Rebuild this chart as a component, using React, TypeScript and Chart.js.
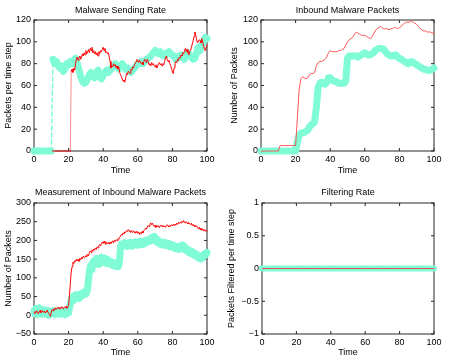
import React, { useEffect, useRef } from "react";
import { Chart, registerables } from "chart.js";

Chart.register(...registerables);

// ---------- data ----------
const FINE_STEP = 0.5; // time step of the noisy series
const COARSE_STEP = 1; // time step of the smoother series

// Malware Sending Rate (red, fine step, t = 0..100)
const rateRed: (number | null)[] = [
  null, null, null, null, null, null, null, null, null, null,
  null, null, null, null, null, null, null, null, null, null,
  null, 0, 0, 0, 0, 0, 0, 0, 0, 0,
  0, 0, 0, 0, 0, 0, 0, 0, 0, 0,
  0, 0, 0, 73, 75, 72, 76, 74, 80, 84,
  86, 83, 85, 87, 84, 86, 89, 87, 90, 88,
  92, 89, 91, 93, 90, 94, 92, 95, 90, 92,
  89, 91, 88, 90, 87, 91, 89, 92, 91, 93,
  95, 92, 94, 90, 91, 89, 90, 86, 82, 76,
  78, 77, 80, 78, 79, 76, 78, 75, 77, 72,
  70, 68, 66, 64, 65, 63, 67, 71, 70, 73,
  72, 71, 75, 74, 77, 76, 79, 80, 82, 84,
  83, 81, 83, 82, 80, 81, 79, 82, 84, 83,
  81, 84, 82, 79, 80, 78, 81, 79, 80, 78,
  77, 79, 76, 78, 80, 81, 79, 80, 78, 80,
  79, 82, 85, 87, 84, 82, 83, 80, 78, 76,
  72, 71, 76, 80, 82, 81, 84, 83, 86, 85,
  88, 87, 90, 89, 92, 94, 91, 93, 90, 88,
  91, 92, 95, 98, 101, 105, 109, 106, 102, 99,
  100, 102, 101, 99, 103, 100, 96, 94, 92, 95,
  97,
];

// Malware Sending Rate (cyan, coarse step)
const rateCyan: number[] = [
  0, 0, 0, 0, 0, 0, 0, 0, 0, 0,
  0, 84, 80, 82, 78, 76, 78, 73, 76, 80,
  79, 82, 80, 83, 85, 80, 74, 68, 64, 62,
  63, 66, 70, 72, 70, 67, 71, 74, 69, 66,
  69, 72, 74, 72, 74, 76, 78, 80, 78, 75,
  78, 80, 78, 75, 76, 74, 72, 74, 76, 78,
  80, 80, 82, 80, 82, 84, 85, 86, 88, 90,
  92, 90, 89, 91, 88, 87, 88, 90, 91, 89,
  88, 87, 84, 85, 87, 88, 86, 84, 88, 90,
  88, 86, 84, 85, 90, 95, 92, 97, 100, 104,
  103,
];

// Inbound Malware Packets (red, coarse step)
const inboundRed: number[] = [
  0, 0, 0, 0, 0, 0, 0, 0, 0, 0,
  0, 5, 5, 5, 5, 5, 5, 5, 5, 5,
  5, 30, 55, 66, 68, 67, 66, 67, 70, 71,
  71, 72, 78, 81, 82, 82, 83, 84, 86, 90,
  92, 91, 91, 91, 91, 92, 92, 93, 94, 97,
  100, 102, 103, 104, 107, 109, 108, 107, 106, 106,
  106, 105, 104, 103, 104, 107, 110, 112, 113, 114,
  113, 112, 112, 112, 111, 112, 112, 113, 113, 112,
  113, 114, 116, 117, 118, 118, 118, 119, 118, 117,
  116, 114, 112, 111, 110, 110, 109, 109, 109, 108,
  108,
];

// Inbound Malware Packets (cyan, coarse step)
const inboundCyan: number[] = [
  0, 0, 0, 0, 0, 0, 0, 0, 0, 0,
  0, 0, 0, 0, 0, 0, 0, 0, 0, 0,
  0, 8, 14, 16, 17, 17, 18, 19, 22, 24,
  25, 27, 40, 58, 62, 63, 62, 61, 63, 67,
  67, 65, 64, 64, 63, 62, 62, 62, 62, 64,
  85, 87, 87, 87, 87, 87, 86, 87, 88, 89,
  90, 89, 88, 88, 89, 90, 92, 93, 94, 94,
  94, 93, 91, 89, 88, 87, 87, 88, 88, 86,
  85, 84, 83, 82, 81, 80, 81, 82, 81, 80,
  79, 78, 77, 76, 75, 75, 74, 74, 74, 75,
  76,
];

// Measurement of Inbound Malware Packets (red, fine step)
const measRed: number[] = [
  5, 10, 6, 12, 8, 4, 9, 13, 7, 10,
  12, 8, 11, 6, 10, 14, 9, 5, 2, -3,
  8, 15, 12, 18, 14, 20, 16, 19, 22, 17,
  21, 18, 23, 19, 17, 22, 20, 24, 19, 23,
  25, 55, 85, 115, 130, 142, 138, 146, 143, 150,
  145, 149, 144, 152, 148, 155, 151, 158, 154, 157,
  160, 156, 163, 159, 167, 172, 168, 175, 171, 177,
  174, 180, 176, 183, 180, 186, 189, 185, 192, 196,
  192, 198, 193, 189, 195, 191, 194, 190, 196, 192,
  195, 199, 194, 200, 197, 202, 199, 205, 203, 208,
  212, 216, 214, 220, 218, 223, 221, 226, 224, 229,
  225, 222, 227, 224, 221, 226, 223, 219, 224, 221,
  219, 223, 216, 221, 218, 224, 220, 226, 229, 233,
  230, 236, 240, 237, 243, 247, 242, 246, 240, 237,
  241, 235, 239, 236, 240, 234, 238, 241, 237, 240,
  236, 239, 235, 238, 242, 239, 236, 240, 238, 242,
  239, 243, 240, 244, 241, 246, 243, 248, 245, 249,
  247, 251, 248, 253, 249, 246, 250, 247, 244, 248,
  245, 242, 246, 240, 243, 238, 241, 236, 239, 234,
  231, 235, 229, 233, 227, 231, 226, 229, 224, 228,
  225,
];

// Measurement of Inbound Malware Packets (cyan, fine step)
const measCyan: number[] = [
  12, 4, 18, 8, 2, 14, 20, 6, 10, 3,
  9, 15, 4, 11, 2, 8, 13, 0, 6, 10,
  3, 9, 12, 5, 8, 2, 11, 6, 4, 10,
  7, 3, 9, 5, 11, 6, 2, 8, 4, 10,
  6, 22, 30, 44, 38, 50, 42, 48, 55, 46,
  52, 45, 56, 49, 58, 51, 60, 54, 62, 57,
  66, 60, 72, 95, 115, 130, 122, 138, 130, 145,
  136, 148, 140, 152, 144, 136, 150, 142, 155, 146,
  150, 141, 153, 145, 138, 149, 140, 146, 137, 144,
  135, 142, 133, 140, 131, 138, 130, 136, 132, 150,
  182, 190, 183, 192, 185, 194, 186, 191, 184, 193,
  186, 195, 188, 192, 185, 194, 189, 196, 190, 193,
  187, 196, 190, 198, 192, 195, 189, 198, 193, 200,
  194, 201, 196, 203, 198, 206, 200, 209, 203, 211,
  205, 200, 196, 202, 193, 198, 190, 196, 188, 194,
  189, 195, 187, 193, 186, 192, 185, 190, 183, 189,
  182, 188, 180, 186, 178, 184, 177, 183, 176, 182,
  186, 180, 188, 179, 184, 174, 180, 171, 176, 168,
  174, 166, 172, 163, 169, 160, 166, 158, 164, 155,
  160, 152, 158, 150, 156, 154, 162, 158, 166, 163,
  168,
];

// Filtering Rate
const filterTime: number[] = [0, 10, 20, 30, 40, 50, 60, 70, 80, 90, 100];
const filterRed: number[] = [0, 0, 0, 0, 0, 0, 0, 0, 0, 0, 0];
const filterCyan: number[] = [0, 0, 0, 0, 0, 0, 0, 0, 0, 0, 0];

// ---------- styling ----------
const RED = "#ff0000";
const CYAN = "rgb(127,252,214)";
const FONT = "'Liberation Sans', Arial, Helvetica, sans-serif";
const AXIS = "#262626";

const onStep = (vals: (number | null)[], step: number) =>
  vals.map((v, i) => ({ x: i * step, y: v }));
const onTimes = (vals: number[], times: number[]) =>
  vals.map((v, i) => ({ x: times[i], y: v }));

const fmt = (v: number | string) => {
  const n = Number(v);
  return (n < 0 ? "\u2212" : "") + String(Math.abs(n));
};

const matlabAxes = {
  id: "matlabAxes",
  beforeDatasetsDraw(chart: any) {
    const { ctx, chartArea: a, scales } = chart;
    const x = scales.x;
    const y = scales.y;
    const L = 3;
    ctx.save();
    ctx.strokeStyle = AXIS;
    ctx.lineWidth = 1;
    ctx.strokeRect(a.left, a.top, a.right - a.left, a.bottom - a.top);
    ctx.beginPath();
    x.ticks.forEach((t: any) => {
      const px = x.getPixelForValue(t.value);
      ctx.moveTo(px, a.bottom);
      ctx.lineTo(px, a.bottom - L);
      ctx.moveTo(px, a.top);
      ctx.lineTo(px, a.top + L);
    });
    y.ticks.forEach((t: any) => {
      const py = y.getPixelForValue(t.value);
      ctx.moveTo(a.left, py);
      ctx.lineTo(a.left + L, py);
      ctx.moveTo(a.right, py);
      ctx.lineTo(a.right - L, py);
    });
    ctx.stroke();
    ctx.restore();
  },
};

type Series = { points: { x: number; y: number | null }[]; color: string; width: number; jumpDash?: boolean; jumpFade?: boolean };
type PanelCfg = {
  left: number; top: number;
  area: { l: number; r: number; t: number; b: number };
  title: string; titlePadTop: number;
  yTitle: string; yTitlePad: number; xTitlePad: number;
  yMin: number; yMax: number; yStep: number;
  series: Series[]; // first entry is drawn on top
};

const W = 225;
const H = 180;

const panels: PanelCfg[] = [
  {
    left: 0, top: 0, area: { l: 34, r: 207, t: 20, b: 151 },
    title: "Malware Sending Rate", titlePadTop: 5,
    yTitle: "Packets per time step", yTitlePad: 3, xTitlePad: 4,
    yMin: 0, yMax: 120, yStep: 20,
    series: [
      { points: onStep(rateRed, FINE_STEP), color: RED, width: 1, jumpFade: true },
      { points: onStep(rateCyan, COARSE_STEP), color: CYAN, width: 7, jumpDash: true },
    ],
  },
  {
    left: 225, top: 0, area: { l: 36, r: 209, t: 20, b: 151 },
    title: "Inbound Malware Packets", titlePadTop: 5,
    yTitle: "Number of Packets", yTitlePad: 4.6, xTitlePad: 4,
    yMin: 0, yMax: 120, yStep: 20,
    series: [
      { points: onStep(inboundRed, COARSE_STEP), color: "rgb(255,70,70)", width: 0.9 },
      { points: onStep(inboundCyan, COARSE_STEP), color: CYAN, width: 7 },
    ],
  },
  {
    left: 0, top: 180, area: { l: 34, r: 207, t: 23, b: 154 },
    title: "Measurement of Inbound Malware Packets", titlePadTop: 7.6,
    yTitle: "Number of Packets", yTitlePad: 3, xTitlePad: 2,
    yMin: -50, yMax: 300, yStep: 50,
    series: [
      { points: onStep(measRed, FINE_STEP), color: RED, width: 1 },
      { points: onStep(measCyan, FINE_STEP), color: CYAN, width: 7 },
    ],
  },
  {
    left: 225, top: 180, area: { l: 37, r: 209, t: 23, b: 154 },
    title: "Filtering Rate", titlePadTop: 7.6,
    yTitle: "Packets Filtered per time step", yTitlePad: 1.3, xTitlePad: 2,
    yMin: -1, yMax: 1, yStep: 0.5,
    series: [
      { points: onTimes(filterRed, filterTime), color: "rgb(230,80,80)", width: 1 },
      { points: onTimes(filterCyan, filterTime), color: CYAN, width: 6 },
    ],
  },
];

function makeChart(canvas: HTMLCanvasElement, p: PanelCfg) {
  const lh = 9 * 1.2;
  return new Chart(canvas, {
    type: "line",
    data: {
      datasets: p.series.map((s) => ({
        data: s.points as any,
        borderColor: s.color,
        borderWidth: s.width,
        pointRadius: 0,
        fill: false,
        tension: 0,
        spanGaps: false,
        clip: false as any,
        borderCapStyle: "round" as const,
        borderJoinStyle: "round" as const,
        segment: {
          borderWidth: (ctx: any) =>
            s.jumpDash && Math.abs(ctx.p1.parsed.y - ctx.p0.parsed.y) > 40 ? 1.5 : undefined,
          borderDash: (ctx: any) =>
            s.jumpDash && Math.abs(ctx.p1.parsed.y - ctx.p0.parsed.y) > 40 ? [4, 3] : undefined,
          borderColor: (ctx: any) =>
            s.jumpFade && Math.abs(ctx.p1.parsed.y - ctx.p0.parsed.y) > 40 ? "rgba(255,0,0,0.45)" : undefined,
        },
      })),
    },
    options: {
      animation: false,
      responsive: false,
      events: [],
      layout: { padding: { left: 0, right: W - p.area.r, top: 0, bottom: 0 } },
      plugins: {
        legend: { display: false },
        tooltip: { enabled: false },
        title: {
          display: true,
          text: p.title,
          fullSize: false,
          color: "#000",
          font: { family: FONT, size: 9, weight: "normal" as any, lineHeight: 1.2 },
          padding: { top: p.titlePadTop, bottom: p.area.t - p.titlePadTop - lh },
        },
      },
      scales: {
        x: {
          type: "linear",
          min: 0,
          max: 100,
          grid: { display: false, drawTicks: false },
          border: { display: false },
          ticks: {
            stepSize: 20,
            padding: 3,
            color: "#000",
            maxRotation: 0,
            font: { family: FONT, size: 9 },
            callback: (v: any) => fmt(v),
          },
          title: {
            display: true,
            text: "Time",
            color: "#000",
            font: { family: FONT, size: 9, lineHeight: 1.2 },
            padding: { top: 0, bottom: p.xTitlePad },
          },
          afterFit: (s: any) => {
            s.height = H - p.area.b;
            s.paddingLeft = 0;
            s.paddingRight = 0;
          },
        },
        y: {
          type: "linear",
          min: p.yMin,
          max: p.yMax,
          grid: { display: false, drawTicks: false },
          border: { display: false },
          ticks: {
            stepSize: p.yStep,
            padding: 3,
            color: "#000",
            font: { family: FONT, size: 9 },
            callback: (v: any) => fmt(v),
          },
          title: {
            display: true,
            text: p.yTitle,
            color: "#000",
            font: { family: FONT, size: 9, lineHeight: 1.2 },
            padding: { top: p.yTitlePad, bottom: 0 },
          },
          afterFit: (s: any) => {
            s.width = p.area.l;
            s.paddingTop = 0;
            s.paddingBottom = 0;
          },
        },
      },
    },
    plugins: [matlabAxes],
  } as any);
}

export default function App() {
  const refs = useRef<(HTMLCanvasElement | null)[]>([]);

  useEffect(() => {
    const charts = panels.map((p, i) => makeChart(refs.current[i] as HTMLCanvasElement, p));
    return () => charts.forEach((c) => c.destroy());
  }, []);

  return (
    <div style={{ position: "absolute", left: 0, top: 0, width: 450, height: 360, background: "#fff" }}>
      {panels.map((p, i) => (
        <canvas
          key={i}
          ref={(el) => { refs.current[i] = el; }}
          width={W}
          height={H}
          style={{ position: "absolute", left: p.left, top: p.top, width: W, height: H, display: "block" }}
        />
      ))}
    </div>
  );
}
